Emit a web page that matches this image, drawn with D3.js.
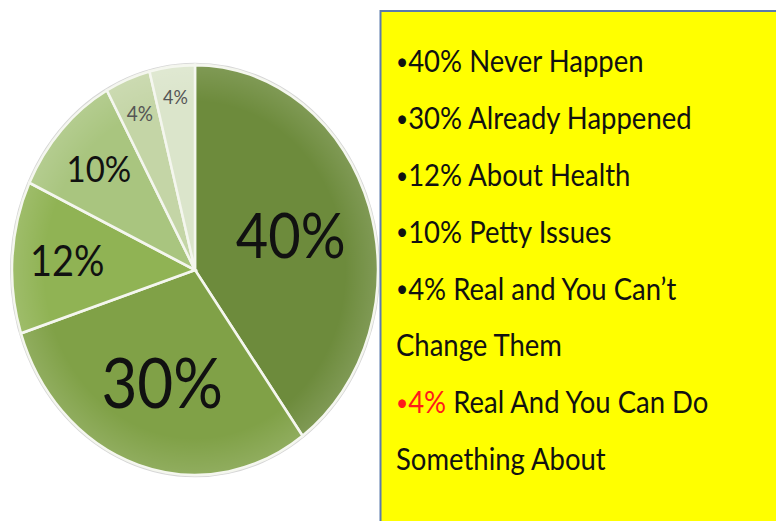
<!DOCTYPE html>
<html lang="en">
<head>
    <meta charset="UTF-8">
    <title>Worries</title>
    <script src="https://d3js.org/d3.v7.min.js"></script>
    <style>
        body, html {
            margin: 0;
            background: #ffffff;
            overflow: hidden;
        }
        text {
            font-family: Lato, "Noto Sans", sans-serif;
        }
    </style>
</head>
<body>
    <script>
        // data
        const values = [40, 30, 12, 10, 4, 4];
        const labels = [
            "Never Happen",
            "Already Happened",
            "About Health",
            "Petty Issues",
            "Real and You Can’t\nChange Them",
            "Real And You Can Do\nSomething About"
        ];
        const colors = ["#6d8b3c", "#80a147", "#90b354", "#a9c57f", "#c4d5a6", "#dbe5cb"];

        // label look per slice (radius factor, font size, colour)
        const labelPos = [0.55, 0.58, 0.7, 0.72, 0.82, 0.85];
        const labelSize = [56, 62, 38, 33, 19, 18];
        const labelFill = ["#111", "#111", "#111", "#111", "#555", "#555"];

        const width = 776, height = 521;
        const svg = d3.select("body").append("svg")
            .attr("width", width)
            .attr("height", height);

        const r = 183;
        const stretch = 205 / 183;   // the picture is stretched vertically

        const pie = d3.pie().sort(null).value(d => d);
        const arcs = pie(values);
        const arc = d3.arc().innerRadius(0).outerRadius(r);

        const g = svg.append("g")
            .attr("transform", `translate(195,270) scale(1,${stretch})`);

        // faint rim
        g.append("circle")
            .attr("r", r + 1)
            .attr("fill", "none")
            .attr("stroke", "#d6d6d6")
            .attr("stroke-width", 2);

        g.selectAll("path.slice")
            .data(arcs)
            .enter().append("path")
            .attr("class", "slice")
            .attr("d", arc)
            .attr("fill", (d, i) => colors[i])
            .attr("stroke", "#f4f6ee")
            .attr("stroke-width", 2.5);

        // soft light edge like the original shading
        const grad = svg.append("defs").append("radialGradient").attr("id", "rim");
        grad.append("stop").attr("offset", "82%").attr("stop-color", "#fff").attr("stop-opacity", 0);
        grad.append("stop").attr("offset", "100%").attr("stop-color", "#fff").attr("stop-opacity", 0.13);
        g.append("circle").attr("r", r).attr("fill", "url(#rim)");

        g.selectAll("text.pct")
            .data(arcs)
            .enter().append("text")
            .attr("class", "pct")
            .attr("transform", (d, i) => {
                const c = d3.arc().innerRadius(r * labelPos[i]).outerRadius(r * labelPos[i]).centroid(d);
                return `translate(${c[0]},${c[1]})`;
            })
            .attr("text-anchor", "middle")
            .attr("dy", "0.36em")
            .attr("font-size", (d, i) => labelSize[i])
            .attr("fill", (d, i) => labelFill[i])
            .text(d => d.data + "%");

        // yellow box
        svg.append("rect")
            .attr("x", 380.5)
            .attr("y", 11)
            .attr("width", 420)
            .attr("height", 540)
            .attr("fill", "#ffff00")
            .attr("stroke", "#5b7bab")
            .attr("stroke-width", 2);

        // legend lines
        const lines = [];
        values.forEach((v, i) => {
            labels[i].split("\n").forEach((t, j) => {
                lines.push({ first: j === 0, pct: v, text: t, red: i === values.length - 1 });
            });
        });

        const lineY = d3.scaleLinear().domain([0, 1]).range([72, 72 + 56.9]);

        const lg = svg.append("g").attr("transform", `scale(1,${stretch})`);
        const tx = lg.selectAll("text.line")
            .data(lines)
            .enter().append("text")
            .attr("class", "line")
            .attr("x", 396)
            .attr("y", (d, i) => lineY(i) / stretch)
            .attr("font-size", 27.5)
            .attr("fill", "#111");

        const first = tx.filter(d => d.first);
        first.append("tspan")
            .attr("fill", d => d.red ? "#ff1a1a" : "#111")
            .attr("font-size", 21)
            .attr("dy", -2)
            .text("•");
        first.append("tspan")
            .attr("fill", d => d.red ? "#ff1a1a" : "#111")
            .attr("dy", 2)
            .text(d => d.pct + "%");
        tx.append("tspan")
            .text(d => d.first ? " " + d.text : d.text);
    </script>
</body>
</html>
